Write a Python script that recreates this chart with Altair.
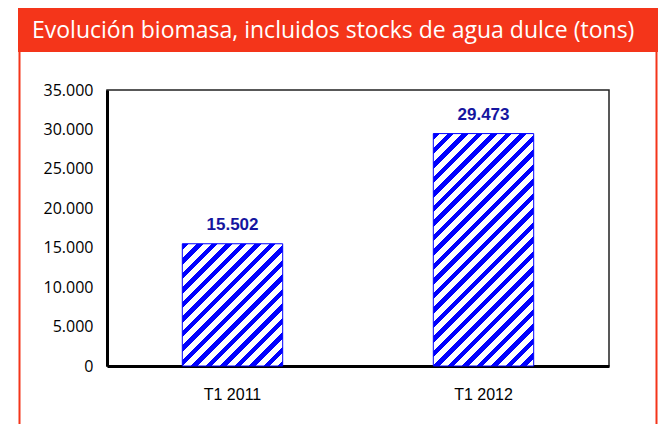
import altair as alt
import pandas as pd

# ---- data ----
categories = ["T1 2011", "T1 2012"]
values = [15502, 29473]
y_ticks = [0, 5000, 10000, 15000, 20000, 25000, 30000, 35000]
title_text = "Evolución biomasa, incluidos stocks de agua dulce (tons)"

# ---- layout / style ----
Y_MAX = 35000
PLOT_W = 502
PLOT_H = 276
PAD_INNER = 0.6
PAD_OUTER = 0.3
STRIPE_PERIOD = 14.5   # px measured along x+y
BLUE_FRACTION = 0.45
BLUE = "#0000FF"
RED = "#F4351A"
LABEL_BLUE = "#1515A0"
CAL_FONT = "Open Sans"
ARIAL = "Liberation Sans"

df = pd.DataFrame({"cat": categories, "v": values})
deco = pd.DataFrame({"t": [title_text]})

band_step = PLOT_W / (len(categories) - PAD_INNER + 2 * PAD_OUTER)
bar_w = band_step * (1 - PAD_INNER)


def hatch(value):
    w = bar_w
    h = value / Y_MAX * PLOT_H
    k = (w + h) / (w * w + h * h)
    n = (w + h) / STRIPE_PERIOD
    stops = []
    i = 0
    while i < n:
        a = i / n
        b = min((i + BLUE_FRACTION) / n, 1.0)
        c = min((i + 1) / n, 1.0)
        stops += [
            {"offset": a, "color": BLUE},
            {"offset": b, "color": BLUE},
            {"offset": b, "color": "white"},
            {"offset": c, "color": "white"},
        ]
        i += 1
    return {"gradient": "linear", "x1": 0, "y1": 0, "x2": w * k, "y2": h * k, "stops": stops}


x_enc = alt.X(
    "cat:N",
    sort=categories,
    scale=alt.Scale(domain=categories, paddingInner=PAD_INNER, paddingOuter=PAD_OUTER),
    axis=alt.Axis(
        title=None, labelAngle=0, ticks=False, domainWidth=3, domainColor="black",
        labelFont=ARIAL, labelFontSize=16, labelColor="black", labelPadding=20,
    ),
)
y_enc = alt.Y(
    "v:Q",
    scale=alt.Scale(domain=[0, Y_MAX], nice=False),
    axis=alt.Axis(
        values=y_ticks, title=None, grid=False, ticks=False,
        labelExpr="replace(format(datum.value, ','), ',', '.')",
        labelFont=CAL_FONT, labelFontSize=16, labelColor="black", labelPadding=14,
        domainWidth=3, domainColor="black",
    ),
)

base = alt.Chart(df)

bar_layers = [
    base.transform_filter(alt.datum.cat == c)
    .mark_bar(fill=hatch(v), stroke=BLUE, strokeWidth=1)
    .encode(x=x_enc, y=y_enc)
    for c, v in zip(categories, values)
]

labels = (
    base.transform_calculate(label="replace(format(datum.v, ','), ',', '.')")
    .mark_text(dy=-14, baseline="alphabetic", fontWeight="bold", font=ARIAL,
               fontSize=17, color=LABEL_BLUE)
    .encode(x=x_enc, y=y_enc, text="label:N")
)

header = alt.Chart(deco).mark_rect(color=RED).encode(
    x=alt.value(-89), x2=alt.value(551), y=alt.value(-83), y2=alt.value(-38)
)
border_l = alt.Chart(deco).mark_rule(color=RED, strokeWidth=2).encode(
    x=alt.value(-87.5), y=alt.value(-38), y2=alt.value(340)
)
border_r = alt.Chart(deco).mark_rule(color=RED, strokeWidth=2).encode(
    x=alt.value(549.5), y=alt.value(-38), y2=alt.value(340)
)
header_text = alt.Chart(deco).mark_text(
    align="left", baseline="alphabetic", color="white", font=CAL_FONT, fontSize=23
).encode(x=alt.value(-75), y=alt.value(-52), text="t:N")

chart = (
    alt.layer(header, border_l, border_r, header_text, *bar_layers, labels)
    .properties(
        width=PLOT_W, height=PLOT_H,
        autosize=alt.AutoSizeParams(type="none"),
        padding={"left": 99, "top": 82, "right": 49, "bottom": 58},
        background="white",
    )
    .configure_view(stroke="#222222", strokeWidth=1.5)
)

chart.save("out.html", embed_options={"renderer": "svg", "actions": False})
